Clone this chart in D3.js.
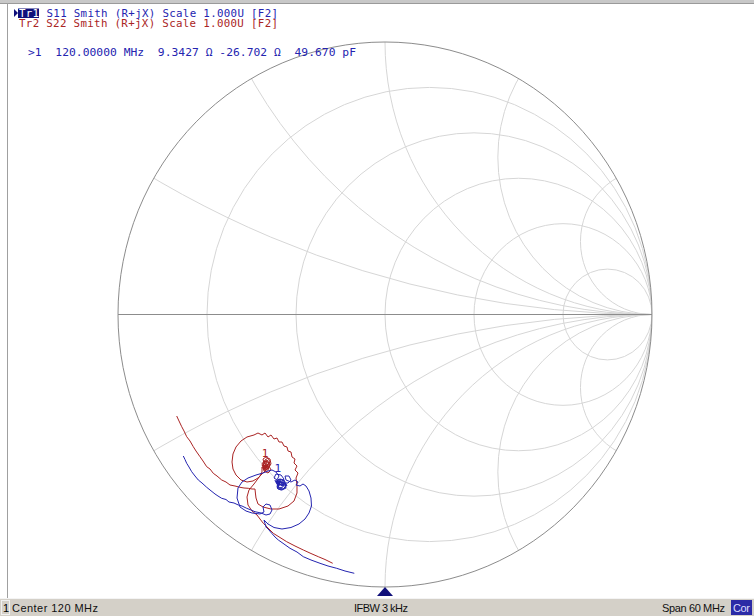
<!DOCTYPE html>
<html>
<head>
<meta charset="utf-8">
<script src="https://cdn.jsdelivr.net/npm/d3@7"></script>
<style>
  body { margin: 0; background: #fff; }
  svg { display: block; }
</style>
</head>
<body>
<svg id="chart" width="754" height="616"></svg>
<script>
// grid values (normalised impedance)
const resistances = [0.2, 0.5, 1, 2, 5];
const reactances = [0.268, 0.577, 1, 1.732, 3.732];

// stimulus
const freqRange = [90, 150];
const markerFreq = 120;

// reflection coefficient, [re, im]
const s11 = [
  [-0.7554, -0.5193], [-0.7491, -0.5321], [-0.7427, -0.5461], [-0.7341, -0.5596], [-0.7240, -0.5769],
  [-0.7116, -0.5927], [-0.6993, -0.6073], [-0.6854, -0.6183], [-0.6678, -0.6341], [-0.6554, -0.6440],
  [-0.6367, -0.6587], [-0.6255, -0.6661], [-0.6116, -0.6745], [-0.5955, -0.6789], [-0.5843, -0.6881],
  [-0.5655, -0.6917], [-0.5494, -0.6991], [-0.5356, -0.7028], [-0.5180, -0.7112], [-0.5019, -0.7174],
  [-0.4869, -0.7237], [-0.4644, -0.7284], [-0.4457, -0.7358], [-0.4307, -0.7321], [-0.4232, -0.7174],
  [-0.4307, -0.6991], [-0.4457, -0.6954], [-0.4569, -0.7064], [-0.4532, -0.7248], [-0.4682, -0.7321],
  [-0.4981, -0.7284], [-0.5206, -0.7211], [-0.5431, -0.7064], [-0.5543, -0.6734], [-0.5506, -0.6367],
  [-0.5356, -0.6147], [-0.5131, -0.6000], [-0.4831, -0.5890], [-0.4569, -0.5817], [-0.4382, -0.5743],
  [-0.4232, -0.5706], [-0.4082, -0.5780], [-0.3970, -0.5927], [-0.4045, -0.6073], [-0.4157, -0.6000],
  [-0.4082, -0.5853], [-0.3895, -0.5890], [-0.3783, -0.6037], [-0.3858, -0.6220], [-0.4007, -0.6257],
  [-0.4082, -0.6147], [-0.3970, -0.6037], [-0.3783, -0.6110], [-0.3708, -0.6294], [-0.3820, -0.6404],
  [-0.3970, -0.6367], [-0.4007, -0.6220], [-0.3858, -0.6147], [-0.3708, -0.6220], [-0.3745, -0.6367],
  [-0.3895, -0.6440], [-0.4045, -0.6367], [-0.3970, -0.6257], [-0.3820, -0.6257],
  [-0.3933, -0.6110], [-0.3783, -0.6183], [-0.3820, -0.6330], [-0.3970, -0.6367], [-0.4045, -0.6257],
  [-0.3933, -0.6147], [-0.3745, -0.6220], [-0.3708, -0.6367], [-0.3858, -0.6440], [-0.4007, -0.6404],
  [-0.4045, -0.6294], [-0.3895, -0.6220], [-0.3670, -0.6294], [-0.3783, -0.6073], [-0.3933, -0.6037],
  [-0.4007, -0.6147], [-0.3858, -0.6294], [-0.3708, -0.6183],
  [-0.3633, -0.6183], [-0.3521, -0.6073], [-0.3596, -0.5927], [-0.3745, -0.5927], [-0.3708, -0.6073],
  [-0.3521, -0.6147], [-0.3371, -0.6073], [-0.3258, -0.6147], [-0.3333, -0.6257], [-0.3184, -0.6294],
  [-0.3071, -0.6220], [-0.2959, -0.6294], [-0.2846, -0.6477], [-0.2772, -0.6734], [-0.2753, -0.7028],
  [-0.2846, -0.7284], [-0.2996, -0.7505], [-0.3221, -0.7688], [-0.3521, -0.7817], [-0.3858, -0.7872],
  [-0.4157, -0.7817], [-0.4382, -0.7688], [-0.4532, -0.7541], [-0.4457, -0.7798], [-0.4345, -0.7908],
  [-0.4243, -0.8029], [-0.4120, -0.8165], [-0.3996, -0.8275], [-0.3783, -0.8422], [-0.3558, -0.8580],
  [-0.3296, -0.8716], [-0.3060, -0.8888], [-0.2772, -0.9009], [-0.2434, -0.9130], [-0.2135, -0.9229],
  [-0.1809, -0.9314], [-0.1498, -0.9413], [-0.1150, -0.9497]
];

const s22 = [
  [-0.7801, -0.3725], [-0.7715, -0.3908], [-0.7614, -0.4117], [-0.7528, -0.4275], [-0.7427, -0.4484],
  [-0.7303, -0.4642], [-0.7180, -0.4851], [-0.7079, -0.5009], [-0.6929, -0.5218], [-0.6816, -0.5376],
  [-0.6678, -0.5585], [-0.6554, -0.5670], [-0.6431, -0.5828], [-0.6292, -0.5927], [-0.6116, -0.6073],
  [-0.5955, -0.6147], [-0.5805, -0.6257], [-0.5618, -0.6294], [-0.5431, -0.6341], [-0.5281, -0.6367],
  [-0.5120, -0.6378], [-0.4981, -0.6404], [-0.4869, -0.6404], [-0.4850, -0.6587], [-0.4831, -0.6734],
  [-0.4757, -0.6954], [-0.4569, -0.7064], [-0.4270, -0.7138], [-0.3970, -0.7138], [-0.3633, -0.7028],
  [-0.3408, -0.6844], [-0.3296, -0.6550], [-0.3296, -0.6257], [-0.3333, -0.6000],
  [-0.3258, -0.5817], [-0.3371, -0.5706], [-0.3296, -0.5560], [-0.3408, -0.5450], [-0.3371, -0.5303],
  [-0.3483, -0.5229], [-0.3521, -0.5046], [-0.3633, -0.5009], [-0.3670, -0.4862], [-0.3783, -0.4826],
  [-0.3858, -0.4679], [-0.3970, -0.4679], [-0.4045, -0.4532], [-0.4157, -0.4569], [-0.4270, -0.4422],
  [-0.4382, -0.4495], [-0.4494, -0.4349], [-0.4607, -0.4422], [-0.4757, -0.4349], [-0.4906, -0.4422],
  [-0.5169, -0.4495], [-0.5393, -0.4642], [-0.5581, -0.4862], [-0.5693, -0.5119], [-0.5730, -0.5413],
  [-0.5693, -0.5670], [-0.5581, -0.5890], [-0.5393, -0.6073], [-0.5169, -0.6147], [-0.4944, -0.6110],
  [-0.4757, -0.6000], [-0.4607, -0.5853], [-0.4457, -0.5706], [-0.4307, -0.5560], [-0.4382, -0.5413],
  [-0.4532, -0.5376], [-0.4607, -0.5486], [-0.4532, -0.5633], [-0.4382, -0.5633], [-0.4270, -0.5486],
  [-0.4307, -0.5303], [-0.4457, -0.5229], [-0.4569, -0.5303], [-0.4532, -0.5450], [-0.4419, -0.5523],
  [-0.4307, -0.5413], [-0.4382, -0.5266], [-0.4494, -0.5339], [-0.4569, -0.5560], [-0.4532, -0.5743],
  [-0.4382, -0.5817], [-0.4270, -0.5706], [-0.4345, -0.5560], [-0.4494, -0.5633],
  [-0.4457, -0.5413], [-0.4382, -0.5560], [-0.4494, -0.5670], [-0.4569, -0.5523], [-0.4457, -0.5376],
  [-0.4345, -0.5450], [-0.4419, -0.5633], [-0.4532, -0.5596], [-0.4532, -0.5413], [-0.4419, -0.5339],
  [-0.4307, -0.5486], [-0.4382, -0.5706], [-0.4532, -0.5706], [-0.4607, -0.5596],
  [-0.4607, -0.5780], [-0.4682, -0.5927], [-0.4794, -0.6073], [-0.4906, -0.6220], [-0.5094, -0.6440],
  [-0.5169, -0.6697], [-0.5131, -0.6991], [-0.4981, -0.7211], [-0.4794, -0.7358], [-0.4682, -0.7505],
  [-0.4558, -0.7662], [-0.4382, -0.7835], [-0.4184, -0.8029], [-0.3933, -0.8183], [-0.3682, -0.8338],
  [-0.3371, -0.8495], [-0.3060, -0.8642], [-0.2772, -0.8771], [-0.2498, -0.8888], [-0.2247, -0.8991],
  [-0.1959, -0.9130]
];

const markerS11 = [-0.4014, -0.6306];
const markerS22 = [-0.4494, -0.5743];

const headerTr1 = 'S11 Smith (R+jX) Scale 1.000U [F2]';
const headerTr2 = 'Tr2 S22 Smith (R+jX) Scale 1.000U [F2]';
const markerReadout = '>1  120.00000 MHz  9.3427 \u03A9 -26.702 \u03A9  49.670 pF';
const statusItems = ['Center 120 MHz', 'IFBW 3 kHz', 'Span 60 MHz'];

const blue = '#2424b0', red = '#aa2424';
const mono = "'DejaVu Sans Mono', monospace";

const svg = d3.select('#chart');

const x = d3.scaleLinear().domain([-1, 1]).range([118, 652]);
const y = d3.scaleLinear().domain([1, -1]).range([42, 587]);
const rx = v => x(v) - x(0);
const ry = v => y(0) - y(v);

// frame
svg.append('rect').attr('x', 0).attr('y', 0).attr('width', 754).attr('height', 3).attr('fill', '#c8c8c8');
svg.append('line').attr('x1', 0).attr('x2', 754).attr('y1', 3.5).attr('y2', 3.5).attr('stroke', '#9a9a9a');
svg.append('line').attr('x1', 7.5).attr('x2', 7.5).attr('y1', 3).attr('y2', 598).attr('stroke', '#a0a0a0');

// clip to the unit circle
svg.append('clipPath').attr('id', 'unit')
  .append('ellipse')
  .attr('cx', x(0)).attr('cy', y(0)).attr('rx', rx(1)).attr('ry', ry(1));

const grid = svg.append('g').attr('clip-path', 'url(#unit)')
  .attr('fill', 'none').attr('stroke', '#d6d6d6').attr('stroke-width', 1);

grid.selectAll('.rcirc').data(resistances).join('ellipse')
  .attr('cx', r => x(r / (r + 1))).attr('cy', y(0))
  .attr('rx', r => rx(1 / (r + 1))).attr('ry', r => ry(1 / (r + 1)));

const arcs = reactances.flatMap(v => [v, -v]);
grid.selectAll('.xcirc').data(arcs).join('ellipse')
  .attr('cx', x(1)).attr('cy', v => y(1 / v))
  .attr('rx', v => rx(Math.abs(1 / v))).attr('ry', v => ry(Math.abs(1 / v)));

svg.append('line')
  .attr('x1', x(-1)).attr('x2', x(1)).attr('y1', y(0)).attr('y2', y(0))
  .attr('stroke', '#8c8c8c');
svg.append('ellipse')
  .attr('cx', x(0)).attr('cy', y(0)).attr('rx', rx(1)).attr('ry', ry(1))
  .attr('fill', 'none').attr('stroke', '#8c8c8c');

// traces
const line = d3.line().x(d => x(d[0])).y(d => y(d[1])).curve(d3.curveLinear);
svg.append('path').datum(s22).attr('d', line)
  .attr('fill', 'none').attr('stroke', red).attr('stroke-width', 1);
svg.append('path').datum(s11).attr('d', line)
  .attr('fill', 'none').attr('stroke', blue).attr('stroke-width', 1);

// markers
[[markerS22, red], [markerS11, blue]].forEach(([m, c]) => {
  const mx = x(m[0]), my = y(m[1]);
  svg.append('path')
    .attr('d', `M${mx},${my}L${mx - 3.5},${my - 6}L${mx + 3.5},${my - 6}Z`)
    .attr('fill', c);
  svg.append('text').attr('x', mx).attr('y', my - 14)
    .attr('text-anchor', 'middle').attr('fill', c)
    .style('font', `11px ${mono}`).text('1');
});

// header
svg.append('path').attr('d', 'M14,9L18,13L14,17Z').attr('fill', '#10107a');
svg.append('rect').attr('x', 18).attr('y', 8.5).attr('width', 21).attr('height', 9.5).attr('fill', '#10107a');
svg.append('text').attr('x', 19).attr('y', 17).attr('fill', '#fff')
  .attr('textLength', 20).style('font', `10.8px ${mono}`).text('Tr1');
svg.append('text').attr('x', 46.5).attr('y', 17).attr('fill', blue)
  .attr('textLength', 231.5).style('font', `10.8px ${mono}`).text(headerTr1);
svg.append('text').attr('x', 19).attr('y', 27).attr('fill', red)
  .attr('textLength', 259).style('font', `10.8px ${mono}`).text(headerTr2);
svg.append('text').attr('x', 28).attr('y', 56).attr('fill', blue)
  .attr('textLength', 328).attr('xml:space', 'preserve')
  .style('white-space', 'pre').style('font', `11.3px ${mono}`).text(markerReadout);

// stimulus position
const fx = d3.scaleLinear().domain(freqRange).range([x(-1), x(1)]);
const fm = fx(markerFreq);
svg.append('path').attr('d', `M${fm},587L${fm - 8},596L${fm + 8},596Z`).attr('fill', '#10107a');

// status bar
const bar = svg.append('g');
bar.append('rect').attr('x', 0).attr('y', 598).attr('width', 754).attr('height', 18).attr('fill', '#d4d0c8');
bar.append('line').attr('x1', 0).attr('x2', 754).attr('y1', 598.5).attr('y2', 598.5).attr('stroke', '#f4f4f4');
bar.append('rect').attr('x', 1.5).attr('y', 600.5).attr('width', 8).attr('height', 14)
  .attr('fill', 'none').attr('stroke', '#f0f0f0');
const sfont = "11px 'Liberation Sans', Arial, sans-serif";
bar.append('text').attr('x', 3).attr('y', 611.5).style('font', sfont).text('1');
const pos = [[12, 86], [354, 54], [662, 63]];
statusItems.forEach((t, i) => {
  bar.append('text').attr('x', pos[i][0]).attr('y', 611.5).attr('textLength', pos[i][1])
    .style('font', sfont).attr('fill', '#111').text(t);
});
bar.append('rect').attr('x', 731).attr('y', 600).attr('width', 21).attr('height', 15).attr('fill', '#2b2ba6');
bar.append('text').attr('x', 733).attr('y', 611.5).attr('textLength', 17)
  .style('font', sfont).attr('fill', '#dcdcff').text('Cor');
</script>
</body>
</html>
